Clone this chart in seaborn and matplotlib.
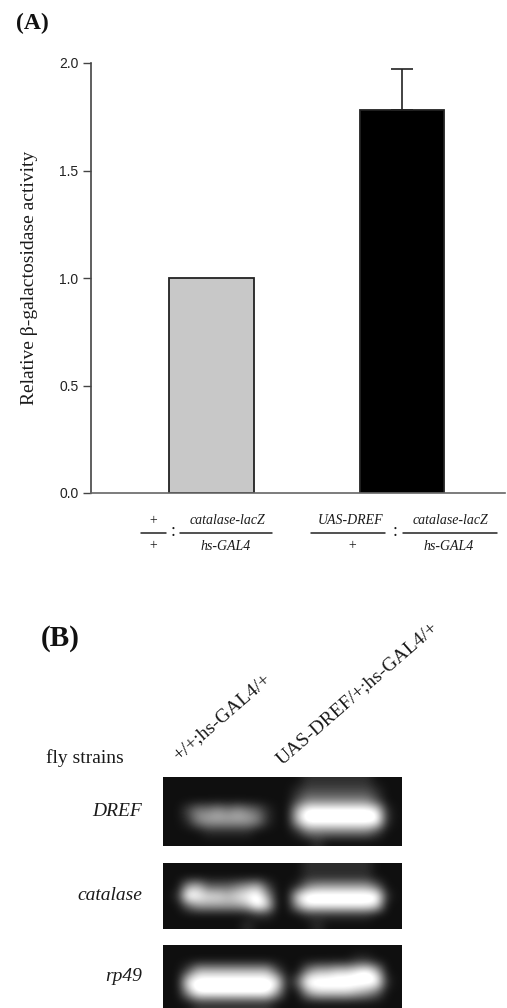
import matplotlib
matplotlib.use('Agg')
import matplotlib.pyplot as plt
from matplotlib.lines import Line2D
import seaborn as sns
import pandas as pd

genotypes = ['+/+ : catalase-lacZ/hs-GAL4', 'UAS-DREF/+ : catalase-lacZ/hs-GAL4']
activity = [1.0, 1.78]
activity_err = [0.0, 0.19]
bar_colors = ['#c8c8c8', '#000000']
y_ticks = [0.0, 0.5, 1.0, 1.5, 2.0]

# gel band brightness, 0-9, one cell is about 10 px
gel_dref = [
    [0, 0, 0, 0, 0, 0, 0, 0, 0, 0, 0, 0, 0, 0, 1, 1, 1, 1, 1, 1, 1, 0, 0, 0],
    [0, 0, 0, 0, 0, 0, 0, 0, 0, 0, 0, 0, 0, 1, 2, 2, 2, 2, 2, 2, 2, 1, 0, 0],
    [0, 0, 0, 0, 0, 0, 0, 0, 0, 0, 0, 0, 0, 2, 4, 4, 4, 4, 4, 4, 4, 2, 0, 0],
    [0, 0, 2, 4, 4, 5, 4, 5, 4, 3, 1, 0, 0, 6, 9, 9, 9, 9, 9, 9, 9, 8, 1, 0],
    [0, 0, 1, 4, 5, 5, 5, 5, 5, 4, 1, 0, 0, 6, 9, 9, 9, 9, 9, 9, 9, 9, 1, 0],
    [0, 0, 0, 0, 1, 1, 1, 1, 1, 0, 0, 0, 0, 1, 4, 4, 4, 4, 4, 4, 4, 2, 0, 0],
    [0, 0, 0, 0, 0, 0, 0, 0, 0, 0, 0, 0, 0, 0, 0, 1, 0, 0, 0, 0, 0, 0, 0, 0],
]
gel_catalase = [
    [0, 0, 0, 0, 0, 0, 0, 0, 0, 0, 0, 0, 0, 0, 1, 1, 1, 1, 1, 1, 1, 0, 0, 0],
    [0, 0, 0, 0, 0, 0, 0, 0, 0, 0, 0, 0, 0, 0, 1, 1, 1, 1, 1, 1, 1, 0, 0, 0],
    [0, 0, 5, 6, 3, 3, 3, 4, 5, 6, 2, 0, 0, 1, 4, 5, 5, 5, 5, 5, 5, 3, 0, 0],
    [0, 1, 9, 8, 7, 7, 6, 7, 8, 9, 5, 0, 0, 7, 9, 9, 9, 9, 9, 9, 9, 9, 1, 0],
    [0, 0, 3, 5, 5, 5, 5, 5, 6, 9, 7, 0, 0, 5, 8, 8, 8, 8, 8, 8, 8, 7, 0, 0],
    [0, 0, 0, 0, 0, 0, 0, 0, 0, 1, 1, 0, 0, 0, 1, 1, 1, 1, 1, 1, 1, 0, 0, 0],
    [0, 0, 0, 0, 0, 0, 0, 0, 1, 0, 0, 0, 0, 0, 0, 1, 0, 0, 0, 0, 0, 0, 0, 0],
]
gel_rp49 = [
    [0, 0, 0, 0, 0, 0, 0, 0, 0, 0, 0, 0, 0, 0, 0, 0, 0, 0, 0, 0, 0, 0, 0, 0],
    [0, 0, 0, 0, 0, 0, 0, 0, 0, 0, 0, 0, 0, 0, 0, 0, 0, 0, 0, 1, 1, 0, 0, 0],
    [0, 0, 2, 6, 6, 6, 6, 6, 6, 6, 6, 2, 0, 0, 4, 6, 6, 7, 7, 8, 9, 6, 0, 0],
    [0, 0, 8, 9, 9, 9, 9, 9, 9, 9, 9, 8, 0, 3, 9, 9, 9, 9, 9, 9, 9, 9, 1, 0],
    [0, 0, 5, 9, 9, 9, 9, 9, 9, 9, 9, 5, 0, 0, 5, 7, 7, 7, 7, 6, 5, 3, 0, 0],
    [0, 0, 0, 1, 1, 1, 1, 1, 1, 1, 1, 0, 0, 0, 0, 0, 0, 0, 0, 0, 0, 0, 0, 0],
]
gel_names = ['DREF', 'catalase', 'rp49']
strain_labels = ['+/+;hs-GAL4/+', 'UAS-DREF/+;hs-GAL4/+']

W, H = 507, 1008
SERIF = 'Liberation Serif'

sns.set_theme(style='ticks')
fig = plt.figure(figsize=(W / 100, H / 100), dpi=100, facecolor='white')


def px_axes(x0, y0, x1, y1):
    return fig.add_axes([x0 / W, 1 - y1 / H, (x1 - x0) / W, (y1 - y0) / H])


def px_text(x, y, s, **kw):
    kw.setdefault('family', SERIF)
    kw.setdefault('color', '#1a1a1a')
    fig.text(x / W, 1 - y / H, s, **kw)


def px_line(x0, x1, y, lw=1.1):
    fig.add_artist(Line2D([x0 / W, x1 / W], [1 - y / H, 1 - y / H], color='#222222', lw=lw))


# panel A
ax = px_axes(91, 63, 505, 493)
df = pd.DataFrame({'genotype': genotypes, 'activity': activity})
sns.barplot(data=df, x='genotype', y='activity', hue='genotype', palette=bar_colors,
            width=0.44, edgecolor='#222222', linewidth=1.3, errorbar=None, legend=False, ax=ax)
ax.errorbar([1], activity[1], yerr=[[0], [activity_err[1]]], color='#222222',
            elinewidth=1.2, capsize=8, capthick=1.2, fmt='none')
ax.set_xlim(-0.631, 1.537)
ax.set_ylim(0, 2)
ax.set_yticks(y_ticks)
ax.set_yticklabels([f'{t:.1f}' for t in y_ticks], family='Liberation Sans', fontsize=10, color='#222222')
ax.set_xticks([])
ax.set_xlabel('')
ax.set_ylabel('')
ax.tick_params(axis='y', length=6, width=1, color='#444444', pad=3)
sns.despine(ax=ax)
ax.spines['left'].set_color('#444444')
ax.spines['bottom'].set_color('#666666')
ax.spines['left'].set_linewidth(1.2)
ax.spines['bottom'].set_linewidth(1.2)

px_text(30, 278, 'Relative β-galactosidase activity', fontsize=14, rotation=90, ha='center', va='center')
px_text(16, 23, '(A)', fontsize=17, fontweight='bold', ha='left', va='center', color='#111111')

# genotype fractions under the bars
frac = dict(fontsize=10, style='italic', ha='center', va='center')
px_text(153, 521, '+', **frac)
px_text(153, 546, '+', **frac)
px_line(141, 166, 533)
px_text(173, 532, ':', fontsize=13, ha='center', va='center')
px_text(227, 521, 'catalase-lacZ', **frac)
px_text(226, 546, 'hs-GAL4', **frac)
px_line(180, 272, 533)
px_text(351, 521, 'UAS-DREF', **frac)
px_text(352, 546, '+', **frac)
px_line(311, 385, 533)
px_text(395, 532, ':', fontsize=13, ha='center', va='center)'[:6])
px_text(450, 521, 'catalase-lacZ', **frac)
px_text(449, 546, 'hs-GAL4', **frac)
px_line(403, 497, 533)

# panel B
px_text(41, 638, '(B)', fontsize=21, fontweight='bold', ha='left', va='center', color='#111111')
px_text(46, 758, 'fly strains', fontsize=14, ha='left', va='center')
px_text(181, 764, strain_labels[0], fontsize=14, rotation=41, rotation_mode='anchor', ha='left', va='bottom')
px_text(285, 768, strain_labels[1], fontsize=14, rotation=41, rotation_mode='anchor', ha='left', va='bottom')

gels = [gel_dref, gel_catalase, gel_rp49]
boxes = [(777, 846), (863, 929), (945, 1008)]
for name, gel, (top, bottom) in zip(gel_names, gels, boxes):
    gx = px_axes(163, top, 402, bottom)
    gx.imshow(gel, cmap='gray', vmin=-0.5, vmax=8, aspect='auto', interpolation='bicubic')
    gx.set_axis_off()
    px_text(142, (top + bottom) / 2, name, fontsize=14, style='italic', ha='right', va='center')

fig.savefig('out.png', dpi=100)
